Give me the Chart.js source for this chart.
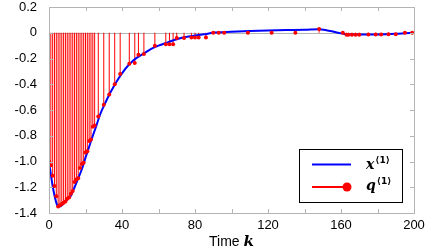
<!DOCTYPE html>
<html>
<head>
<meta charset="utf-8">
<script src="https://cdn.jsdelivr.net/npm/chart.js@4.4.1/dist/chart.umd.min.js"></script>
<style>
  html, body { margin: 0; padding: 0; background: #fff; }
  #wrap { width: 436px; height: 251px; }
</style>
</head>
<body>
<div id="wrap"><canvas id="chart"></canvas></div>
<script>
// state trajectory x<1>
const stateK = [0, 2, 4, 5, 6, 8, 10, 12, 14, 16, 18, 20, 22, 24, 26, 28, 31, 34, 37, 40, 44, 48, 52, 56, 60, 65, 70, 75, 80, 85, 90, 100, 110, 120, 130, 140, 148, 152, 156, 160, 163, 170, 180, 190, 195, 200];
const stateX = [-1.00, -1.19, -1.32, -1.35, -1.35, -1.325, -1.295, -1.265, -1.20, -1.13, -1.06, -0.97, -0.885, -0.80, -0.72, -0.635, -0.54, -0.455, -0.38, -0.315, -0.245, -0.195, -0.16, -0.125, -0.10, -0.075, -0.05, -0.033, -0.022, -0.012, 0.0, 0.008, 0.014, 0.018, 0.021, 0.023, 0.027, 0.02, 0.008, -0.005, -0.012, -0.014, -0.013, -0.008, -0.004, 0.0];

// transmitted samples q<1> (red stems)
const sampleK = [0, 1, 2, 3, 4, 5, 6, 7, 8, 9, 10, 11, 12, 13, 14, 15, 16, 17, 18, 19, 20, 21, 22, 23, 24, 25,
  27, 30, 33, 36, 39, 44, 47, 49, 52, 58, 64, 66, 68, 70, 74, 78, 80, 82, 86, 90, 93, 96, 109, 122, 135, 148,
  161, 163, 164, 166, 168, 170, 175, 179, 182, 186, 190, 195, 199];
const sampleQ = [-1.00, -1.03, -1.11, -1.19, -1.27, -1.35, -1.34, -1.33, -1.32, -1.31, -1.29, -1.28, -1.25, -1.23, -1.16, -1.14, -1.13, -1.05, -1.02, -1.01, -0.93, -0.92, -0.84, -0.83, -0.73, -0.72,
  -0.65, -0.56, -0.48, -0.40, -0.32, -0.24, -0.235, -0.17, -0.165, -0.10, -0.09, -0.09, -0.09, -0.04, -0.04, -0.037, -0.037, -0.037, -0.037, 0, 0, 0, 0, 0, 0, 0.03,
  0, -0.016, -0.016, -0.016, -0.016, -0.016, -0.014, -0.014, -0.014, -0.012, -0.012, 0, 0];

const xMin = 0, xMax = 200, xStep = 20, xLabelStep = 40;
const yMin = -1.4, yMax = 0.2, yStep = 0.2;

const GRAY = '#b4b4b4';
Chart.defaults.font.family = "'Liberation Sans', Arial, sans-serif";
Chart.defaults.font.size = 13;
Chart.defaults.color = '#000';

const frame = {
  id: 'frame',
  beforeDatasetsDraw(chart) {
    const { ctx, chartArea: a, scales } = chart;
    const y0 = scales.y.getPixelForValue(0);
    ctx.save();
    ctx.strokeStyle = GRAY;
    ctx.lineWidth = 1;
    ctx.beginPath();
    ctx.moveTo(a.left, Math.round(y0) + 0.5);
    ctx.lineTo(a.right, Math.round(y0) + 0.5);
    ctx.stroke();
    ctx.restore();
  },
  afterDraw(chart) {
    const { ctx, chartArea: a, scales } = chart;
    ctx.save();
    ctx.strokeStyle = GRAY;
    ctx.lineWidth = 1;
    ctx.strokeRect(Math.round(a.left) + 0.5, Math.round(a.top) + 0.5,
      Math.round(a.right - a.left), Math.round(a.bottom - a.top));
    // inner ticks
    ctx.beginPath();
    scales.x.ticks.forEach(t => {
      const px = Math.round(scales.x.getPixelForValue(t.value)) + 0.5;
      ctx.moveTo(px, a.bottom); ctx.lineTo(px, a.bottom - 4);
      ctx.moveTo(px, a.top); ctx.lineTo(px, a.top + 4);
    });
    scales.y.ticks.forEach(t => {
      const py = Math.round(scales.y.getPixelForValue(t.value)) + 0.5;
      ctx.moveTo(a.left, py); ctx.lineTo(a.left + 4, py);
      ctx.moveTo(a.right, py); ctx.lineTo(a.right - 4, py);
    });
    ctx.stroke();

    // x axis title: "Time k"
    ctx.fillStyle = '#000';
    ctx.textBaseline = 'alphabetic';
    ctx.font = "14px 'Liberation Sans', Arial, sans-serif";
    const w1 = ctx.measureText('Time ').width;
    ctx.font = "bold italic 15px 'DejaVu Serif', serif";
    const w2 = ctx.measureText('k').width;
    const cx = (a.left + a.right) / 2;
    let tx = cx - (w1 + w2) / 2;
    ctx.font = "14px 'Liberation Sans', Arial, sans-serif";
    ctx.fillText('Time ', tx, 246);
    ctx.font = "bold italic 15px 'DejaVu Serif', serif";
    ctx.fillText('k', tx + w1, 246);

    // legend
    const lx = 299, ly = 149, lw = 103, lh = 53;
    ctx.fillStyle = '#fff';
    ctx.fillRect(lx, ly, lw, lh);
    ctx.strokeStyle = '#000';
    ctx.strokeRect(lx + 0.5, ly + 0.5, lw, lh);

    ctx.strokeStyle = '#0000ff';
    ctx.lineWidth = 2;
    ctx.beginPath(); ctx.moveTo(312, 164.5); ctx.lineTo(351, 164.5); ctx.stroke();
    ctx.strokeStyle = '#ff0000';
    ctx.beginPath(); ctx.moveTo(312, 187); ctx.lineTo(347, 187); ctx.stroke();
    ctx.fillStyle = '#ff0000';
    ctx.beginPath(); ctx.arc(347, 187, 4.5, 0, Math.PI * 2); ctx.fill();

    ctx.fillStyle = '#000';
    const label = (sym, y) => {
      ctx.font = "bold italic 14px 'DejaVu Serif', serif";
      ctx.fillText(sym, 366, y);
      const sw = ctx.measureText(sym).width;
      ctx.font = "bold 9px 'DejaVu Sans', sans-serif";
      ctx.fillText('\u27E81\u27E9', 366 + sw + 1, y - 6);
    };
    label('x', 169);
    label('q', 190);
    ctx.restore();
  }
};

new Chart(document.getElementById('chart'), {
  type: 'bar',
  data: {
    datasets: [
      {
        type: 'bar',
        data: sampleK.map((k, i) => ({ x: k, y: sampleQ[i] })),
        backgroundColor: '#ff0000',
        borderWidth: 0,
        barThickness: 1,
        inflateAmount: 0,
        order: 3
      },
      {
        type: 'line',
        data: stateK.map((k, i) => ({ x: k, y: stateX[i] })),
        borderColor: '#0000ff',
        borderWidth: 2,
        pointRadius: 0,
        cubicInterpolationMode: 'monotone',
        fill: false,
        order: 2
      },
      {
        type: 'line',
        data: sampleK.map((k, i) => ({ x: k, y: sampleQ[i] })),
        showLine: false,
        pointRadius: 2,
        pointBackgroundColor: '#ff0000',
        pointBorderWidth: 0,
        order: 1
      }
    ]
  },
  options: {
    responsive: true,
    maintainAspectRatio: false,
    animation: false,
    events: [],
    layout: { autoPadding: false, padding: { top: 7, right: 22, left: 0, bottom: 0 } },
    plugins: { legend: { display: false }, tooltip: { enabled: false } },
    scales: {
      x: {
        type: 'linear',
        offset: false,
        min: xMin, max: xMax,
        grid: { display: false, drawTicks: true, tickLength: 6, offset: false },
        border: { display: false },
        ticks: {
          stepSize: xStep,
          autoSkip: false,
          maxRotation: 0,
          padding: 0,
          font: { size: 13, lineHeight: 1.0 },
          callback: v => (v % xLabelStep === 0 ? String(v) : '')
        },
        afterFit: s => { s.height = 38; }
      },
      y: {
        type: 'linear',
        min: yMin, max: yMax,
        grid: { display: false, drawTicks: true, tickLength: 12 },
        border: { display: false },
        ticks: {
          stepSize: yStep,
          padding: 0,
          font: { size: 13, lineHeight: 1.0 },
          callback: v => (Math.abs(v) < 1e-9 ? '0' : v.toFixed(1))
        },
        afterFit: s => { s.width = 49; }
      }
    }
  },
  plugins: [frame]
});
</script>
</body>
</html>
